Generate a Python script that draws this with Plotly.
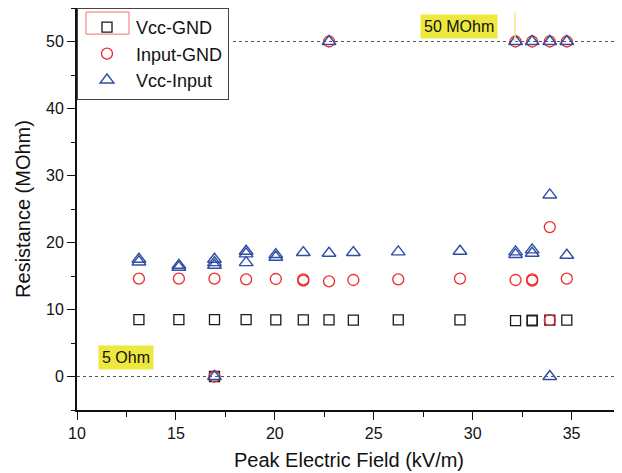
import plotly.graph_objects as go

# ---- data ----
vcc_gnd_x = [13.13, 15.15, 16.95, 16.95, 18.55, 20.05, 21.44, 22.74, 23.97, 26.24, 29.36, 32.17, 33.01, 33.01, 33.90, 34.76]
vcc_gnd_y = [8.5, 8.5, 8.5, 0.0, 8.5, 8.45, 8.45, 8.45, 8.4, 8.45, 8.45, 8.35, 8.4, 8.3, 8.4, 8.4]

input_gnd_x = [13.13, 15.15, 16.95, 16.95, 18.55, 20.05, 21.44, 21.44, 22.74, 22.74, 23.97, 26.24, 29.36,
               32.17, 32.17, 33.01, 33.01, 33.01, 33.90, 33.90, 33.90, 34.76, 34.76]
input_gnd_y = [14.6, 14.6, 14.6, 0.0, 14.5, 14.55, 14.3, 14.5, 14.2, 50.0, 14.4, 14.5, 14.6,
               14.4, 50.0, 14.3, 14.5, 50.0, 22.3, 8.4, 50.0, 14.6, 50.0]

vcc_input_x = [13.13, 13.13, 15.15, 15.15, 16.95, 16.95, 16.95, 16.95, 18.55, 18.55, 18.55, 20.05, 20.05,
               21.44, 22.74, 22.74, 23.97, 26.24, 29.36, 32.17, 32.17, 32.17, 33.01, 33.01, 33.01,
               33.90, 33.90, 33.90, 34.76, 34.76]
vcc_input_y = [17.5, 17.1, 16.6, 16.3, 17.5, 17.0, 16.6, 0.0, 18.7, 18.3, 17.0, 18.2, 17.8,
               18.5, 18.4, 50.0, 18.5, 18.6, 18.7, 18.6, 18.2, 50.0, 18.9, 18.4, 50.0,
               27.1, 0.0, 50.0, 18.1, 50.0]

series_names = ["Vcc-GND", "Input-GND", "Vcc-Input"]
ref_levels = [50, 0]
x_ticks = [10, 15, 20, 25, 30, 35]
y_ticks = [0, 10, 20, 30, 40, 50]

FONT = "Arial, Liberation Sans, sans-serif"

fig = go.Figure()
fig.add_trace(go.Scatter(x=vcc_gnd_x, y=vcc_gnd_y, mode="markers", name=series_names[0],
                         marker=dict(symbol="square-open", size=10, color="#1a1a1a",
                                     line=dict(width=1.3, color="#1a1a1a"))))
fig.add_trace(go.Scatter(x=input_gnd_x, y=input_gnd_y, mode="markers", name=series_names[1],
                         marker=dict(symbol="circle-open", size=11, color="#ee2a2a",
                                     line=dict(width=1.3, color="#ee2a2a"))))
fig.add_trace(go.Scatter(x=vcc_input_x, y=vcc_input_y, mode="markers", name=series_names[2],
                         marker=dict(symbol="triangle-up-open", size=12, color="#2f4ea6",
                                     line=dict(width=1.4, color="#2f4ea6"))))

shapes = []
for lv in ref_levels:
    shapes.append(dict(type="line", xref="paper", x0=0, x1=1, yref="y", y0=lv, y1=lv,
                       line=dict(color="#555555", width=1, dash="dot"), layer="below"))
# right frame line (light)
shapes.append(dict(type="line", xref="paper", x0=1, x1=1, yref="paper", y0=0, y1=1,
                   line=dict(color="#aaaaaa", width=1)))
# yellow pointer line for 50 MOhm
shapes.append(dict(type="line", xref="x", x0=32.14, x1=32.14, yref="y", y0=50, y1=54.3,
                   line=dict(color="#efe88a", width=1.5)))
# white backing behind the (transparent) legend
shapes.append(dict(type="rect", xref="paper", yref="paper", x0=0.002, x1=0.281, y0=0.80, y1=0.998,
                   line=dict(width=0), fillcolor="white", layer="above"))
# red highlight around first legend symbol
shapes.append(dict(type="rect", xref="paper", yref="paper", x0=0.0165, x1=0.0956, y0=0.935, y1=0.990,
                   line=dict(color="#f07070", width=1), fillcolor="rgba(0,0,0,0)", layer="above"))

annotations = [
    dict(x=29.3, y=52.3, xref="x", yref="y", text="50 MOhm", showarrow=False,
         bgcolor="#eee83e", font=dict(family=FONT, size=16, color="#111111"), borderpad=3),
    dict(x=12.5, y=2.8, xref="x", yref="y", text="5 Ohm", showarrow=False,
         bgcolor="#eee83e", font=dict(family=FONT, size=16, color="#111111"), borderpad=3),
]

fig.update_layout(
    width=614, height=465,
    margin=dict(l=69, r=1, t=0, b=63, autoexpand=False),
    paper_bgcolor="white", plot_bgcolor="white",
    font=dict(family=FONT, color="#111111"),
    shapes=shapes, annotations=annotations,
    showlegend=True,
    legend=dict(x=0, y=1, xanchor="left", yanchor="top", bgcolor="rgba(255,255,255,0)",
                bordercolor="#444444", borderwidth=1, font=dict(family=FONT, size=18),
                tracegroupgap=0, itemwidth=48),
    xaxis=dict(range=[10, 37.5], tickvals=x_ticks, ticks="outside", ticklen=8, tickwidth=1.2,
               tickcolor="#111", showline=True, linecolor="#111", linewidth=1.5, mirror=True,
               showgrid=False, zeroline=False, tickfont=dict(size=16), automargin=False,
               minor=dict(dtick=2.5, ticks="outside", ticklen=5, tickcolor="#111", showgrid=False),
               title=dict(text="Peak Electric Field (kV/m)", font=dict(size=20), standoff=12)),
    yaxis=dict(range=[-5, 55], tickvals=y_ticks, ticks="outside", ticklen=8, tickwidth=1.2,
               tickcolor="#111", showline=True, linecolor="#111", linewidth=2,
               showgrid=False, zeroline=False, tickfont=dict(size=16), automargin=False,
               minor=dict(dtick=5, ticks="outside", ticklen=4, tickcolor="#111", showgrid=False),
               title=dict(text="Resistance (MOhm)", font=dict(size=20), standoff=10)),
)

fig.write_html("out.html")
